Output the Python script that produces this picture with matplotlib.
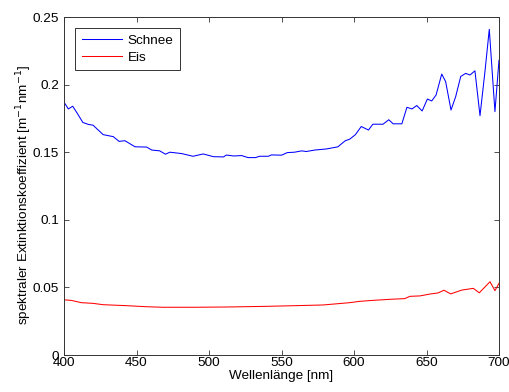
import matplotlib
matplotlib.use("Agg")
import matplotlib.pyplot as plt

plt.rcParams['font.family'] = ['Liberation Sans', 'DejaVu Sans']

# Spectral extinction coefficient of snow
wl_schnee = [400, 403, 406, 409, 413, 417, 420, 424, 427, 434, 438, 442, 449, 457,
             460.5, 466, 470, 473, 481, 489, 496, 503, 510, 512, 517, 522.5, 527,
             532, 535, 541, 543, 550, 554, 559, 564, 567, 573, 581, 589, 590, 594,
             597, 601, 605, 610, 613, 620, 624, 627, 633, 636.5, 640, 643.3, 647,
             650.6, 653.6, 656.6, 660.5, 663.2, 666.9, 670.1, 673.6, 677, 680,
             683.4, 686.9, 690.3, 693.3, 697.2, 700]
k_schnee = [0.187, 0.182, 0.184, 0.179, 0.172, 0.1705, 0.170, 0.166, 0.163, 0.1615,
            0.158, 0.1585, 0.154, 0.1538, 0.1516, 0.151, 0.1485, 0.150, 0.149,
            0.147, 0.1487, 0.1467, 0.1465, 0.1479, 0.1472, 0.1475, 0.146, 0.146,
            0.147, 0.147, 0.148, 0.1478, 0.1497, 0.150, 0.151, 0.1505, 0.1516,
            0.1524, 0.154, 0.155, 0.1585, 0.1596, 0.163, 0.169, 0.1664, 0.1707,
            0.1707, 0.174, 0.171, 0.171, 0.1832, 0.182, 0.1845, 0.1805, 0.1893,
            0.1879, 0.1923, 0.2078, 0.2022, 0.1812, 0.191, 0.206, 0.2083, 0.2071,
            0.2102, 0.177, 0.2095, 0.2409, 0.180, 0.218]

# Spectral extinction coefficient of ice
wl_eis = [400, 405, 412, 420, 427, 443, 457, 468.5, 489, 512, 540, 560, 578.6, 597,
          604, 613, 625, 635, 638.6, 645.5, 652.4, 658, 662, 666.7, 674.3, 682.3,
          686.4, 693.8, 697.2, 700]
k_eis = [0.0408, 0.0404, 0.0387, 0.0382, 0.0372, 0.0365, 0.0357, 0.0353, 0.0353,
         0.0355, 0.036, 0.0365, 0.037, 0.0387, 0.0397, 0.0404, 0.0412, 0.0417,
         0.0434, 0.0437, 0.0451, 0.0459, 0.0479, 0.0452, 0.048, 0.0493, 0.046,
         0.0542, 0.0476, 0.053]

x_ticks = [400, 450, 500, 550, 600, 650, 700]
y_ticks = [0, 0.05, 0.1, 0.15, 0.2, 0.25]
y_ticklabels = ['0', '0.05', '0.1', '0.15', '0.2', '0.25']

fig = plt.figure(figsize=(5.10, 3.92), dpi=100)
ax = fig.add_axes([64 / 510, 37 / 392, 435 / 510, 338 / 392])

ax.plot(wl_schnee, k_schnee, color=(0, 0, 1), lw=0.75, label='Schnee')
ax.plot(wl_eis, k_eis, color=(1, 0, 0), lw=0.75, label='Eis')

ax.set_xlim(400, 700)
ax.set_ylim(0, 0.25)
ax.set_xticks(x_ticks)
ax.set_yticks(y_ticks)
ax.set_yticklabels(y_ticklabels)

ax.tick_params(direction='in', length=3.5, width=0.6, top=True, right=True,
               labelsize=9.7, color='#333333')
ax.tick_params(axis='x', pad=1.5)
ax.tick_params(axis='y', pad=3.5)
for s in ax.spines.values():
    s.set_linewidth(0.7)
    s.set_color('#333333')

ax.set_xlabel('Wellenlänge [nm]', fontsize=9.7, labelpad=1)
ax.set_ylabel('spektraler Extinktionskoeffizient [m$^{-1}$nm$^{-1}$]', fontsize=9.7)
ax.yaxis.set_label_coords(-0.069, 0.473)

leg = ax.legend(loc='upper left', bbox_to_anchor=(11 / 435, 1 - 11 / 338),
                borderaxespad=0, fancybox=False, handlelength=3.0, fontsize=9.7,
                borderpad=0.5, labelspacing=0.3, handletextpad=0.4, framealpha=1)
leg.get_frame().set_edgecolor('#333333')
leg.get_frame().set_linewidth(0.7)

fig.savefig('out.png', dpi=100)
